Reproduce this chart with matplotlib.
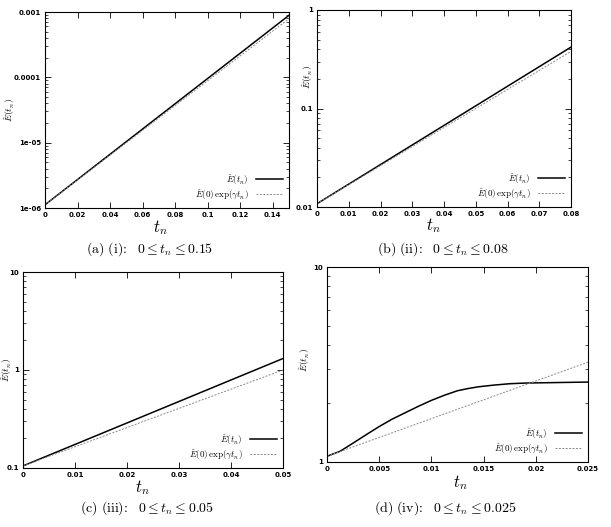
import matplotlib.pyplot as plt
from matplotlib.ticker import LogLocator, NullFormatter, FixedLocator, FixedFormatter

plt.rcParams["mathtext.fontset"] = "cm"
plt.rcParams["font.family"] = ["DejaVu Sans"]

# panel data: (t_n, E_hat) and (t_n, E0 exp(gamma t_n))
a_t = [0.0, 0.15]
a_E = [1.12e-6, 8.9e-4]
a_fit = [1.12e-6, 7.9e-4]

b_t = [0.0, 0.08]
b_E = [0.0108, 0.42]
b_fit = [0.0108, 0.38]

c_t = [0.0, 0.05]
c_E = [0.105, 1.31]
c_fit = [0.105, 1.0]

d_t = [0.0, 0.00125, 0.0025, 0.00375, 0.005, 0.00625, 0.0075, 0.00875, 0.01,
       0.01125, 0.0125, 0.0135, 0.0145, 0.016, 0.0175, 0.019, 0.021, 0.023, 0.025]
d_E = [1.07, 1.135, 1.25, 1.38, 1.52, 1.66, 1.79, 1.93, 2.07,
       2.20, 2.32, 2.38, 2.43, 2.48, 2.52, 2.54, 2.55, 2.56, 2.57]
d_fit_t = [0.0, 0.025]
d_fit = [1.07, 3.25]

a_xticks = [0, 0.02, 0.04, 0.06, 0.08, 0.1, 0.12, 0.14]
b_xticks = [0, 0.01, 0.02, 0.03, 0.04, 0.05, 0.06, 0.07, 0.08]
c_xticks = [0, 0.01, 0.02, 0.03, 0.04, 0.05]
d_xticks = [0, 0.005, 0.01, 0.015, 0.02, 0.025]

a_yticks, a_ylab = [1e-6, 1e-5, 1e-4, 1e-3], ["1e-06", "1e-05", "0.0001", "0.001"]
b_yticks, b_ylab = [0.01, 0.1, 1], ["0.01", "0.1", "1"]
c_yticks, c_ylab = [0.1, 1, 10], ["0.1", "1", "10"]
d_yticks, d_ylab = [1, 10], ["1", "10"]

captions = [
    r"$\mathrm{(a)\ (i)\!:}\ \ 0 \leq t_n \leq 0.15$",
    r"$\mathrm{(b)\ (ii)\!:}\ \ 0 \leq t_n \leq 0.08$",
    r"$\mathrm{(c)\ (iii)\!:}\ \ 0 \leq t_n \leq 0.05$",
    r"$\mathrm{(d)\ (iv)\!:}\ \ 0 \leq t_n \leq 0.025$",
]

W, H = 611, 527
fig = plt.figure(figsize=(W / 100, H / 100), dpi=100)


def box(l, r, t, b):
    return [l / W, 1 - b / H, (r - l) / W, (b - t) / H]


panels = [
    dict(rect=box(45, 289, 12, 208), t=a_t, E=a_E, ft=a_t, fit=a_fit, xmax=0.15,
         ylim=(1e-6, 1e-3), xt=a_xticks, yt=a_yticks, yl=a_ylab,
         xlab=(160, 228), ylab=(10, 110), cap=(150, 249)),
    dict(rect=box(317, 571, 10, 207), t=b_t, E=b_E, ft=b_t, fit=b_fit, xmax=0.08,
         ylim=(0.01, 1), xt=b_xticks, yt=b_yticks, yl=b_ylab,
         xlab=(433, 226), ylab=(308, 77), cap=(443, 249)),
    dict(rect=box(23, 283, 272, 468), t=c_t, E=c_E, ft=c_t, fit=c_fit, xmax=0.05,
         ylim=(0.1, 10), xt=c_xticks, yt=c_yticks, yl=c_ylab,
         xlab=(142, 488), ylab=(7, 370), cap=(147, 508)),
    dict(rect=box(327, 588, 267, 462), t=d_t, E=d_E, ft=d_fit_t, fit=d_fit, xmax=0.025,
         ylim=(1, 10), xt=d_xticks, yt=d_yticks, yl=d_ylab,
         xlab=(460, 483), ylab=(305, 360), cap=(445, 508)),
]

for p, cap in zip(panels, captions):
    ax = fig.add_axes(p["rect"])
    ax.plot(p["t"], p["E"], color="black", lw=1.1, label=r"$\hat{E}(t_n)$")
    ax.plot(p["ft"], p["fit"], color="#888888", lw=0.7, ls=(0, (2, 1.5)),
            label=r"$\hat{E}(0)\,\exp(\gamma t_n)$")
    ax.set_yscale("log")
    ax.set_xlim(0, p["xmax"])
    ax.set_ylim(*p["ylim"])
    ax.xaxis.set_major_locator(FixedLocator(p["xt"]))
    ax.set_xticklabels([f"{v:g}" for v in p["xt"]], fontweight="bold")
    ax.yaxis.set_major_locator(FixedLocator(p["yt"]))
    ax.yaxis.set_major_formatter(FixedFormatter(p["yl"]))
    for lab in ax.get_yticklabels():
        lab.set_fontweight("bold")
    ax.yaxis.set_minor_locator(LogLocator(base=10, subs=range(2, 10)))
    ax.yaxis.set_minor_formatter(NullFormatter())
    ax.tick_params(which="both", direction="in", top=True, right=True,
                   labelsize=5, pad=3)
    ax.tick_params(which="major", length=4, width=0.6)
    ax.tick_params(which="minor", length=2, width=0.5)
    for s in ax.spines.values():
        s.set_linewidth(0.8)
    ax.legend(loc="lower right", frameon=False, fontsize=6.5, markerfirst=False,
              handlelength=3, labelspacing=0.1, borderaxespad=0.3)
    fig.text(p["xlab"][0] / W, 1 - p["xlab"][1] / H, r"$t_n$",
             fontsize=12, ha="center", va="center")
    fig.text(p["ylab"][0] / W, 1 - p["ylab"][1] / H, r"$\hat{E}(t_n)$",
             fontsize=7, ha="center", va="center", rotation=90)
    fig.text(p["cap"][0] / W, 1 - p["cap"][1] / H, cap,
             fontsize=10, ha="center", va="center")

fig.savefig("out.png", dpi=100)
